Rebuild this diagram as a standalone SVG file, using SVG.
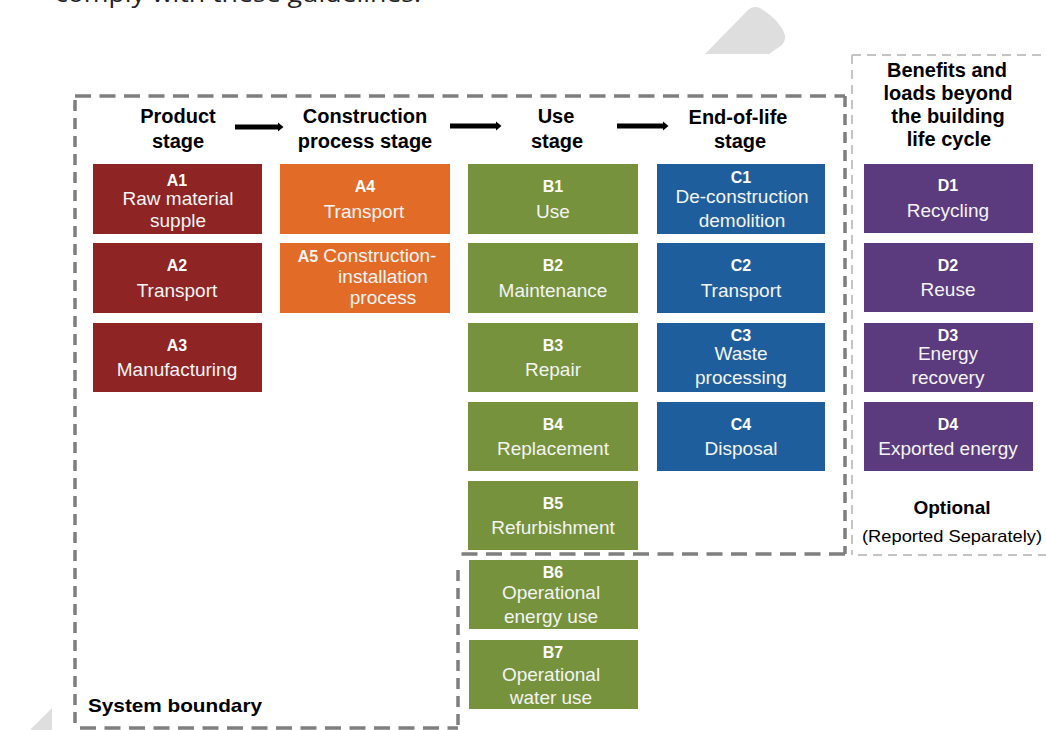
<svg xmlns="http://www.w3.org/2000/svg" width="1046" height="730" viewBox="0 0 1046 730">
<defs>
<style>
.hd{font-family:"Liberation Sans",Arial,sans-serif;font-weight:bold;font-size:20px;fill:#000;text-anchor:middle}
.cd{font-family:"Liberation Sans",Arial,sans-serif;font-weight:bold;font-size:16px;fill:#fff;text-anchor:middle}
.ds{font-family:"Liberation Sans",Arial,sans-serif;font-size:19px;fill:#f4f4f4;text-anchor:middle}
.a{fill:#8E2424}.o{fill:#E36B28}.g{fill:#76923C}.b{fill:#1F5E9C}.p{fill:#5B3B7E}
.sb{fill:none;stroke:#7f7f7f;stroke-width:3.5}
.op{fill:none;stroke:#c4c4c4;stroke-width:2;stroke-dasharray:9 6}
.arr{stroke:#000;stroke-width:5}
</style>
<marker id="ah" markerWidth="3" markerHeight="3" refX="0.2" refY="1.5" orient="auto" markerUnits="strokeWidth">
<path d="M0,0.6 L1.1,1.5 L0,2.4 Z" fill="#000"/>
</marker>
</defs>
<rect width="1046" height="730" fill="#fff"/>
<text x="55" y="2" font-family="Open Sans, sans-serif" font-size="24" fill="#222" textLength="366" lengthAdjust="spacingAndGlyphs">comply with these guidelines.</text>
<path d="M705,54 L748,10 Q753,5 760,8 Q780,20 785,35 Q786,40 782,45 L769,54 Z" fill="#dedede"/>
<path d="M52,708 L52,730 L30,730 Z" fill="#dedede"/>
<g id="boundaries">
<path class="sb" d="M75,96 H845" stroke-dasharray="16 8.5"/>
<path class="sb" d="M845,96 V554" stroke-dasharray="11 7"/>
<path class="sb" d="M845,554 H456" stroke-dasharray="16 8.5"/>
<path class="sb" d="M458,570 V730" stroke-dasharray="11 7"/>
<path class="sb" d="M75,100 V730" stroke-dasharray="11 7"/>
<path class="sb" d="M80,728 H458" stroke-dasharray="16 8.5"/>
<path class="op" d="M852,55 H1046"/>
<path class="op" d="M852,55 V555"/>
<path class="op" d="M858,555 H1046"/>
</g>
<g id="headers">
<text class="hd" x="178" y="123">Product</text>
<text class="hd" x="178" y="148">stage</text>
<text class="hd" x="365" y="123">Construction</text>
<text class="hd" x="365" y="148">process stage</text>
<text class="hd" x="556" y="123">Use</text>
<text class="hd" x="557" y="148">stage</text>
<text class="hd" x="738" y="124">End-of-life</text>
<text class="hd" x="740" y="148">stage</text>
<text class="hd" x="947" y="77">Benefits and</text>
<text class="hd" x="948" y="100">loads beyond</text>
<text class="hd" x="948" y="123">the building</text>
<text class="hd" x="949" y="146">life cycle</text>
</g>
<g id="connectors">
<line class="arr" x1="235" y1="127" x2="279" y2="127" marker-end="url(#ah)"/>
<line class="arr" x1="450" y1="126" x2="497" y2="126" marker-end="url(#ah)"/>
<line class="arr" x1="617" y1="126" x2="664" y2="126" marker-end="url(#ah)"/>
</g>
<g id="A1"><rect class="a" x="93" y="164" width="169" height="70"/><text class="cd" x="177" y="186">A1</text><text class="ds" x="178" y="205">Raw material</text><text class="ds" x="178" y="227">supple</text></g>
<g id="A2"><rect class="a" x="93" y="243" width="169" height="70"/><text class="cd" x="177" y="271">A2</text><text class="ds" x="177" y="297">Transport</text></g>
<g id="A3"><rect class="a" x="93" y="323" width="169" height="69"/><text class="cd" x="177" y="351">A3</text><text class="ds" x="177" y="376">Manufacturing</text></g>
<g id="A4"><rect class="o" x="280" y="164" width="170" height="70"/><text class="cd" x="365" y="192">A4</text><text class="ds" x="364" y="218">Transport</text></g>
<g id="A5"><rect class="o" x="280" y="243" width="170" height="70"/><text class="ds" x="367" y="262"><tspan font-weight="bold" font-size="16">A5</tspan> Construction-</text><text class="ds" x="383" y="283">installation</text><text class="ds" x="383" y="304">process</text></g>
<g id="B1"><rect class="g" x="468" y="164" width="170" height="70"/><text class="cd" x="553" y="192">B1</text><text class="ds" x="553" y="218">Use</text></g>
<g id="B2"><rect class="g" x="468" y="243" width="170" height="70"/><text class="cd" x="553" y="271">B2</text><text class="ds" x="553" y="297">Maintenance</text></g>
<g id="B3"><rect class="g" x="468" y="323" width="170" height="69"/><text class="cd" x="553" y="351">B3</text><text class="ds" x="553" y="376">Repair</text></g>
<g id="B4"><rect class="g" x="468" y="402" width="170" height="69"/><text class="cd" x="553" y="430">B4</text><text class="ds" x="553" y="455">Replacement</text></g>
<g id="B5"><rect class="g" x="468" y="481" width="170" height="69"/><text class="cd" x="553" y="509">B5</text><text class="ds" x="553" y="534">Refurbishment</text></g>
<g id="B6"><rect class="g" x="469" y="560" width="169" height="69"/><text class="cd" x="553" y="578">B6</text><text class="ds" x="551" y="599">Operational</text><text class="ds" x="551" y="623">energy use</text></g>
<g id="B7"><rect class="g" x="469" y="640" width="169" height="69"/><text class="cd" x="553" y="658">B7</text><text class="ds" x="551" y="681">Operational</text><text class="ds" x="551" y="704">water use</text></g>
<g id="C1"><rect class="b" x="657" y="164" width="168" height="70"/><text class="cd" x="741" y="183">C1</text><text class="ds" x="742" y="203">De-construction</text><text class="ds" x="742" y="227">demolition</text></g>
<g id="C2"><rect class="b" x="657" y="243" width="168" height="70"/><text class="cd" x="741" y="271">C2</text><text class="ds" x="741" y="297">Transport</text></g>
<g id="C3"><rect class="b" x="657" y="323" width="168" height="69"/><text class="cd" x="741" y="341">C3</text><text class="ds" x="741" y="360">Waste</text><text class="ds" x="741" y="384">processing</text></g>
<g id="C4"><rect class="b" x="657" y="402" width="168" height="69"/><text class="cd" x="741" y="430">C4</text><text class="ds" x="741" y="455">Disposal</text></g>
<g id="D1"><rect class="p" x="864" y="164" width="169" height="69"/><text class="cd" x="948" y="191">D1</text><text class="ds" x="948" y="217">Recycling</text></g>
<g id="D2"><rect class="p" x="864" y="243" width="169" height="69"/><text class="cd" x="948" y="271">D2</text><text class="ds" x="948" y="296">Reuse</text></g>
<g id="D3"><rect class="p" x="864" y="323" width="169" height="69"/><text class="cd" x="948" y="341">D3</text><text class="ds" x="948" y="360">Energy</text><text class="ds" x="948" y="384">recovery</text></g>
<g id="D4"><rect class="p" x="864" y="402" width="169" height="69"/><text class="cd" x="948" y="430">D4</text><text class="ds" x="948" y="455">Exported energy</text></g>
<g id="labels">
<text x="952" y="514" font-family="Liberation Sans, Arial, sans-serif" font-weight="bold" font-size="19" text-anchor="middle">Optional</text>
<text x="952" y="542" font-family="Liberation Sans, Arial, sans-serif" font-size="16.5" text-anchor="middle" textLength="180" lengthAdjust="spacingAndGlyphs">(Reported Separately)</text>
<text x="88" y="712" font-family="Liberation Sans, Arial, sans-serif" font-weight="bold" font-size="19" textLength="174" lengthAdjust="spacingAndGlyphs">System boundary</text>
</g>
</svg>
